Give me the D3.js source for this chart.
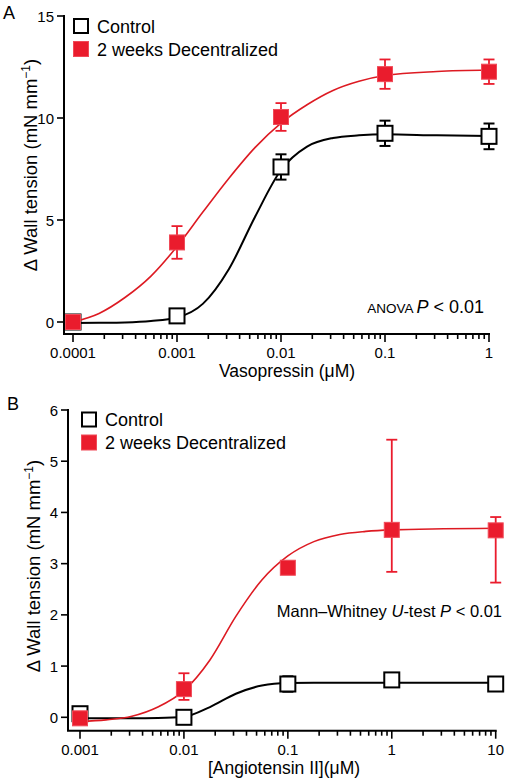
<!DOCTYPE html>
<html>
<head>
<meta charset="utf-8">
<script src="https://cdn.jsdelivr.net/npm/d3@7"></script>
<style>
  html, body { margin: 0; padding: 0; background: #fff; }
  svg { display: block; font-family: Arial, "Liberation Sans", Helvetica, sans-serif; }
</style>
</head>
<body>
<svg id="chart" width="507" height="779"></svg>
<script>
// ---------- Panel A: Vasopressin ----------
const vasoConc = [0.0001, 0.001, 0.01, 0.1, 1];
const vasoControl = [0, 0.3, 7.6, 9.25, 9.1];
const vasoControlErr = [0, 0, 0.62, 0.62, 0.63];
const vasoDecent = [0, 3.9, 10.05, 12.15, 12.27];
const vasoDecentErr = [0, 0.8, 0.68, 0.72, 0.6];
// fitted curves
const vasoCurveConc = [0.0001, 0.000178, 0.000316, 0.000562, 0.001, 0.00178, 0.00316, 0.00562, 0.01, 0.0178, 0.0316, 0.0562, 0.1, 0.316, 1];
const vasoControlCurve = [-0.05, -0.04, -0.02, 0.05, 0.22, 0.9, 2.6, 5.15, 7.45, 8.6, 9.02, 9.15, 9.2, 9.15, 9.12];
const vasoDecentCurve = [0, 0.42, 1.2, 2.25, 3.7, 5.4, 7.05, 8.55, 9.75, 10.65, 11.35, 11.8, 12.08, 12.28, 12.35];
const vasoXTicks = [0.0001, 0.001, 0.01, 0.1, 1];
const vasoXTickLabels = ["0.0001", "0.001", "0.01", "0.1", "1"];
const vasoYTicks = [0, 5, 10, 15];

// ---------- Panel B: Angiotensin II ----------
const angConc = [0.001, 0.01, 0.1, 1, 10];
const angControl = [0.07, 0.0, 0.65, 0.73, 0.65];
const angControlErr = [0.04, 0.03, 0.15, 0.04, 0.04];
const angDecent = [-0.02, 0.55, 2.92, 3.66, 3.65];
const angDecentErrLow = [0.03, 0.21, 0.08, 0.82, 1.02];
const angDecentErrHigh = [0.03, 0.31, 0.08, 1.76, 0.26];
const angCurveConc = [0.001, 0.00178, 0.00316, 0.00562, 0.01, 0.0178, 0.0316, 0.0562, 0.1, 0.178, 0.316, 0.562, 1, 3.16, 10];
const angControlCurve = [-0.02, -0.02, -0.02, -0.015, 0.01, 0.2, 0.46, 0.62, 0.67, 0.675, 0.675, 0.675, 0.675, 0.675, 0.675];
const angDecentCurve = [-0.08, -0.05, 0.02, 0.2, 0.52, 1.12, 1.97, 2.68, 3.15, 3.43, 3.57, 3.63, 3.66, 3.68, 3.69];
const angXTicks = [0.001, 0.01, 0.1, 1, 10];
const angXTickLabels = ["0.001", "0.01", "0.1", "1", "10"];
const angYTicks = [0, 1, 2, 3, 4, 5, 6];

const seriesNames = ["Control", "2 weeks Decentralized"];
const RED = "#ea1c2d";
const RED_LINE = "#dd1a22";

const svg = d3.select("#chart");
svg.append("rect").attr("width", 507).attr("height", 779).attr("fill", "#fff");

function drawPanel(cfg) {
  const g = svg.append("g");
  const x = d3.scaleLog().domain(cfg.xDomain).range(cfg.xRange);
  const y = d3.scaleLinear().domain(cfg.yDomain).range(cfg.yRange);

  // axis lines
  g.append("line").attr("x1", cfg.axisX).attr("x2", cfg.axisX)
    .attr("y1", y(cfg.yDomain[1]) - 1).attr("y2", cfg.axisY)
    .attr("stroke", "#000").attr("stroke-width", 2);
  g.append("line").attr("x1", cfg.axisX - 1).attr("x2", cfg.xRange[1] + 1)
    .attr("y1", cfg.axisY).attr("y2", cfg.axisY)
    .attr("stroke", "#000").attr("stroke-width", 2);

  // y ticks
  cfg.yTicks.forEach(v => {
    g.append("line").attr("x1", cfg.axisX - 7).attr("x2", cfg.axisX)
      .attr("y1", y(v)).attr("y2", y(v)).attr("stroke", "#000").attr("stroke-width", 1.6);
    g.append("text").attr("x", cfg.axisX - 10).attr("y", y(v) + 5.5)
      .attr("text-anchor", "end").attr("font-size", 15).text(v);
  });

  // x ticks (major + minor)
  x.ticks().forEach(t => {
    const major = cfg.xTicks.some(m => Math.abs(m - t) / m < 1e-6);
    g.append("line").attr("x1", x(t)).attr("x2", x(t))
      .attr("y1", cfg.axisY).attr("y2", cfg.axisY + (major ? 8 : 5))
      .attr("stroke", "#000").attr("stroke-width", 1.6);
  });
  cfg.xTicks.forEach((t, i) => {
    g.append("text").attr("x", x(t)).attr("y", cfg.axisY + 24)
      .attr("text-anchor", "middle").attr("font-size", 15).text(cfg.xTickLabels[i]);
  });

  // axis titles
  g.append("text").attr("x", cfg.xTitleX).attr("y", cfg.xTitleY)
    .attr("text-anchor", "middle").attr("font-size", 17.5).text(cfg.xTitle);
  const yt = g.append("text")
    .attr("transform", `translate(${cfg.yTitleX},${cfg.yTitleY}) rotate(-90)`)
    .attr("text-anchor", "middle").attr("font-size", 18.5);
  yt.append("tspan").text("\u0394 Wall tension (mN mm");
  yt.append("tspan").attr("font-size", 12).attr("dy", -7).text("\u22121");
  yt.append("tspan").attr("dy", 7).text(")");

  // panel letter
  g.append("text").attr("x", cfg.letterX).attr("y", cfg.letterY)
    .attr("font-size", 18).text(cfg.letter);

  const line = d3.line().x(d => x(d[0])).y(d => y(d[1])).curve(d3.curveMonotoneX);
  const sq = 15;

  function series(conc, vals, errLow, errHigh, curveConc, curveVals, color, lineColor, lineW, filled) {
    g.append("path").datum(curveConc.map((c, i) => [c, curveVals[i]]))
      .attr("d", line).attr("fill", "none")
      .attr("stroke", lineColor).attr("stroke-width", lineW);
    const eg = g.append("g").attr("stroke", filled ? color : "#000").attr("stroke-width", filled ? 1.8 : 2);
    conc.forEach((c, i) => {
      const cx = x(c);
      const yt = y(vals[i] + errHigh[i]), yb = y(vals[i] - errLow[i]);
      eg.append("line").attr("x1", cx).attr("x2", cx).attr("y1", yt).attr("y2", yb);
      eg.append("line").attr("x1", cx - 5.5).attr("x2", cx + 5.5).attr("y1", yt).attr("y2", yt);
      eg.append("line").attr("x1", cx - 5.5).attr("x2", cx + 5.5).attr("y1", yb).attr("y2", yb);
    });
    conc.forEach((c, i) => {
      g.append("rect").attr("x", x(c) - sq / 2).attr("y", y(vals[i]) - sq / 2)
        .attr("width", sq).attr("height", sq)
        .attr("fill", filled ? color : "#fff")
        .attr("stroke", filled ? "#f04a58" : "#000")
        .attr("stroke-width", filled ? 1 : 2);
    });
  }

  series(cfg.conc, cfg.control, cfg.controlErr, cfg.controlErr, cfg.curveConc, cfg.controlCurve, "#000", "#000", 2, false);
  series(cfg.conc, cfg.decent, cfg.decentErrLow, cfg.decentErrHigh, cfg.curveConc, cfg.decentCurve, RED, RED_LINE, 1.6, true);

  // legend
  const lg = g.append("g");
  lg.append("rect").attr("x", cfg.legX - 7).attr("y", cfg.legY - 7).attr("width", 14).attr("height", 14)
    .attr("fill", "#fff").attr("stroke", "#000").attr("stroke-width", 2);
  lg.append("rect").attr("x", cfg.legX - 7.5).attr("y", cfg.legY + 23 - 7.5).attr("width", 15).attr("height", 15)
    .attr("fill", RED).attr("stroke", "#f04a58").attr("stroke-width", 1);
  lg.append("text").attr("x", cfg.legX + 16).attr("y", cfg.legY + 6.5).attr("font-size", 18).text(seriesNames[0]);
  lg.append("text").attr("x", cfg.legX + 16).attr("y", cfg.legY + 29.5).attr("font-size", 18).text(seriesNames[1]);

  cfg.annotate(g);
}

drawPanel({
  letter: "A", letterX: 3, letterY: 19,
  xDomain: [0.0001, 1], xRange: [73, 489],
  yDomain: [0, 15], yRange: [322, 16],
  axisX: 64, axisY: 334,
  xTicks: vasoXTicks, xTickLabels: vasoXTickLabels, yTicks: vasoYTicks,
  xTitle: "Vasopressin (\u03bcM)", xTitleX: 287, xTitleY: 377,
  yTitleX: 37, yTitleY: 165,
  conc: vasoConc, control: vasoControl, controlErr: vasoControlErr,
  decent: vasoDecent, decentErrLow: vasoDecentErr, decentErrHigh: vasoDecentErr,
  curveConc: vasoCurveConc, controlCurve: vasoControlCurve, decentCurve: vasoDecentCurve,
  legX: 81, legY: 26,
  annotate: g => {
    const t = g.append("text").attr("x", 484).attr("y", 313).attr("text-anchor", "end").attr("font-size", 18);
    t.append("tspan").attr("font-size", 13.5).text("ANOVA ");
    t.append("tspan").attr("font-style", "italic").text("P");
    t.append("tspan").text(" < 0.01");
  }
});

drawPanel({
  letter: "B", letterX: 7, letterY: 410,
  xDomain: [0.001, 10], xRange: [80, 495.7],
  yDomain: [0, 6], yRange: [717.3, 410],
  axisX: 68, axisY: 730.7,
  xTicks: angXTicks, xTickLabels: angXTickLabels, yTicks: angYTicks,
  xTitle: "[Angiotensin II](\u03bcM)", xTitleX: 284, xTitleY: 774,
  yTitleX: 40, yTitleY: 566,
  conc: angConc, control: angControl, controlErr: angControlErr,
  decent: angDecent, decentErrLow: angDecentErrLow, decentErrHigh: angDecentErrHigh,
  curveConc: angCurveConc, controlCurve: angControlCurve, decentCurve: angDecentCurve,
  legX: 89, legY: 419.5,
  annotate: g => {
    const t = g.append("text").attr("x", 502).attr("y", 617).attr("text-anchor", "end").attr("font-size", 16.5);
    t.append("tspan").text("Mann\u2013Whitney ");
    t.append("tspan").attr("font-style", "italic").text("U");
    t.append("tspan").text("-test ");
    t.append("tspan").attr("font-style", "italic").text("P");
    t.append("tspan").text(" < 0.01");
  }
});
</script>
</body>
</html>
